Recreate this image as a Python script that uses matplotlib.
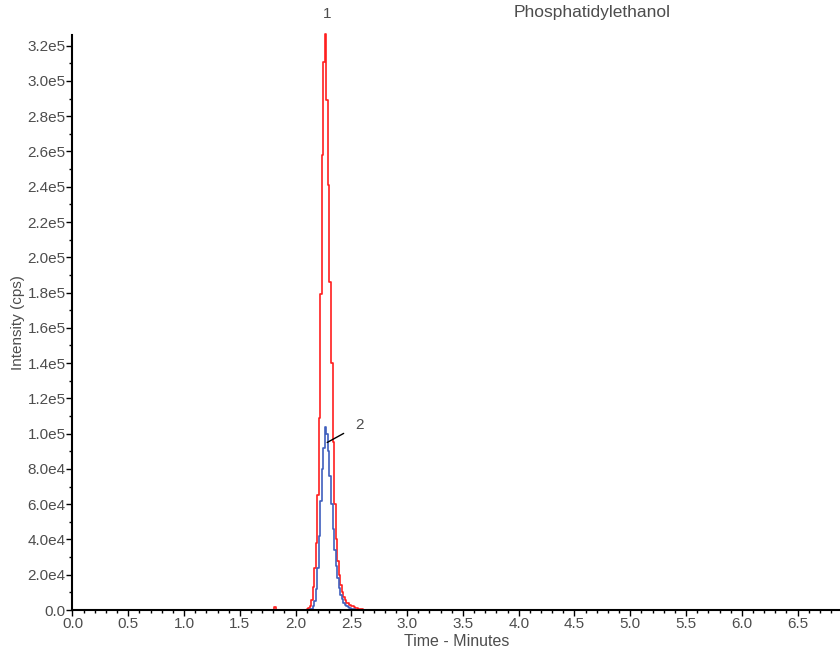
import matplotlib
matplotlib.use("Agg")
import matplotlib.pyplot as plt
import numpy as np
from matplotlib.ticker import MultipleLocator

plt.rcParams['font.family'] = ['Liberation Sans', 'DejaVu Sans']

# chromatogram samples around the peak (minutes, cps)
dt = 0.0135
t0 = 2.270
red_k = np.arange(-13, 27)
red_vals = [0, 500, 1200, 2500, 5500, 13000, 24000, 38000, 65000, 109000,
            179000, 258000, 311000, 326500, 289000, 241000, 186000, 140000, 95000, 60000,
            40000, 28000, 20000, 14000, 10000, 7500, 5500, 4200, 4000, 3000,
            2400, 2000, 1600, 1300, 1000, 800, 600, 400, 200, 0]
blue_k = np.arange(-11, 22)
blue_vals = [0, 300, 800, 2000, 5000, 12000, 24000, 42000, 62000, 80000,
             92000, 104000, 100000, 90000, 76000, 60000, 46000, 34000, 25000, 18000,
             12500, 8500, 6000, 4200, 3000, 2200, 1600, 1100, 800, 500,
             300, 150, 0]
blip_t = [1.80, 1.815, 1.83]
blip_v = [0, 1500, 0]

red_t = np.concatenate([[0.0], blip_t, t0 + red_k * dt, [6.9]])
red_y = np.concatenate([[0], blip_v, red_vals, [0]])
blue_t = np.concatenate([[0.0], t0 + blue_k * dt, [6.9]])
blue_y = np.concatenate([[0], blue_vals, [0]])

txt = '#4d4d4d'

fig = plt.figure(figsize=(8.4, 6.48), dpi=100)
ax = fig.add_axes([0.0863, 0.0586, 0.9137, 0.8873])

ax.plot(red_t, red_y, color='#ff1f1f', lw=1.2, drawstyle='steps-mid', clip_on=False, zorder=1)
ax.plot(blue_t, blue_y, color='#3f5fbd', lw=1.2, drawstyle='steps-mid', clip_on=False, zorder=2)

ax.set_xlim(0, 6.88)
ax.set_ylim(0, 3.26e5)

ax.xaxis.set_minor_locator(MultipleLocator(0.1))
ax.yaxis.set_minor_locator(MultipleLocator(1e4))
xt = np.arange(0, 7.0, 0.5)
ax.set_xticks(xt)
ax.set_xticklabels([f"{v:.1f}" for v in xt])
yt = np.arange(0, 3.3e5, 2e4)
ax.set_yticks(yt)
ax.set_yticklabels(["0.0"] + [f"{v:.1e}".replace("e+0", "e") for v in yt[1:]])

for s in ['top', 'right']:
    ax.spines[s].set_visible(False)
for s in ['left', 'bottom']:
    ax.spines[s].set_linewidth(1.5)
    ax.spines[s].set_zorder(5)

ax.tick_params(axis='both', which='major', direction='out', length=4, width=1,
               labelsize=11, labelcolor=txt, pad=1)
ax.tick_params(axis='both', which='minor', direction='out', length=2.5, width=1)

ax.set_xlabel("Time - Minutes", fontsize=11.5, color=txt, labelpad=2)
ax.set_ylabel("Intensity (cps)", fontsize=11, color=txt, labelpad=2)

fig.text(0.705, 0.981, "Phosphatidylethanol", fontsize=12.5, color=txt,
         ha='center', va='center')
ax.annotate("1", xy=(2.28, 3.27e5), xytext=(2.28, 3.38e5), fontsize=11,
            color=txt, ha='center', va='center', annotation_clip=False)
ax.annotate("2", xy=(2.283, 9.5e4), xytext=(2.57, 1.05e5), fontsize=11,
            color=txt, ha='center', va='center',
            arrowprops=dict(arrowstyle='-', color='black', lw=1, shrinkA=7, shrinkB=0))

fig.savefig("out.png", dpi=100)
